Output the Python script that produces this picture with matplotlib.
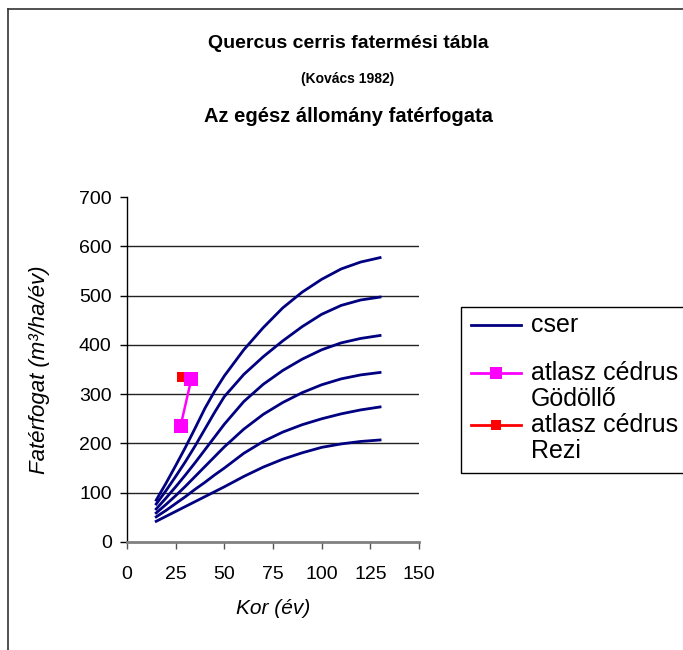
import matplotlib
matplotlib.use("Agg")
import matplotlib.pyplot as plt
from matplotlib.lines import Line2D
from matplotlib.patches import Rectangle

plt.rcParams['font.family'] = ['Liberation Sans', 'DejaVu Sans']

# ---- data ----
ages = [15, 20, 25, 30, 35, 40, 45, 50, 60, 70, 80, 90, 100, 110, 120, 130]
cser_1 = [85, 119, 155, 192, 231, 271, 306, 337, 390, 435, 475, 507, 533, 554, 568, 577]
cser_2 = [77, 104, 133, 163, 195, 229, 263, 295, 340, 376, 408, 437, 462, 480, 491, 497]
cser_3 = [67, 89, 112, 136, 161, 187, 213, 239, 285, 320, 348, 371, 390, 404, 413, 419]
cser_4 = [59, 76, 94, 113, 133, 153, 173, 193, 229, 259, 283, 303, 319, 331, 339, 344]
cser_5 = [51, 64, 78, 92, 107, 121, 136, 150, 180, 204, 223, 238, 250, 260, 268, 274]
cser_6 = [42, 52, 62, 72, 82, 92, 102, 112, 133, 152, 168, 181, 192, 199, 204, 207]
cser_curves = [cser_1, cser_2, cser_3, cser_4, cser_5, cser_6]

godollo_x = [27.5, 33]
godollo_y = [235, 330]
rezi_x = [28.5]
rezi_y = [335]

x_ticks = [0, 25, 50, 75, 100, 125, 150]
y_ticks = [0, 100, 200, 300, 400, 500, 600, 700]

legend_labels = ["cser", "atlasz cédrus\nGödöllő", "atlasz cédrus\nRezi"]
title_1 = "Quercus cerris fatermési tábla"
title_2 = "(Kovács 1982)"
title_3 = "Az egész állomány fatérfogata"

W, H = 683, 650
fig = plt.figure(figsize=(W / 100, H / 100), dpi=100)

def fx(px):
    return px / W

def fy(py):
    return 1 - py / H

ax = fig.add_axes([fx(127), fy(542), fx(419) - fx(127), fy(197) - fy(542)])

navy = '#000080'
for c in cser_curves:
    ax.plot(ages, c, color=navy, lw=2.0, solid_joinstyle='round', zorder=3)

ax.plot(rezi_x, rezi_y, color='#FF0000', lw=1.8, marker='s', markersize=7.5,
        markeredgewidth=0, zorder=4)
ax.plot(godollo_x, godollo_y, color='#FF00FF', lw=1.8, marker='s', markersize=9.5,
        markeredgewidth=0, zorder=5)

ax.set_xlim(x_ticks[0], x_ticks[-1])
ax.set_ylim(y_ticks[0], y_ticks[-1])
ax.set_xticks(x_ticks)
ax.set_yticks(y_ticks)
for t in y_ticks[1:-1]:
    ax.axhline(t, color='#222222', lw=1.0, zorder=1)

for s in ['top', 'right']:
    ax.spines[s].set_visible(False)
ax.spines['left'].set_color('black')
ax.spines['left'].set_linewidth(1.0)
ax.spines['bottom'].set_color('#808080')
ax.spines['bottom'].set_linewidth(2.0)
ax.tick_params(axis='y', direction='out', length=5, width=1, color='black',
               labelsize=14, pad=6)
ax.tick_params(axis='x', direction='out', length=5, width=1, color='#555555',
               labelsize=14, pad=12)

ax.set_xlabel("Kor (év)", fontsize=15, style='italic')
ax.set_ylabel("Fatérfogat (m³/ha/év)", fontsize=16, style='italic')
ax.xaxis.set_label_coords(0.5, (542 - 608) / 345)
ax.xaxis.label.set_va('center')
ax.yaxis.set_label_coords((40 - 127) / 292, (542 - 370) / 345)
ax.yaxis.label.set_va('center')

# titles
cx = fx(348)
fig.text(cx, fy(43), title_1, ha='center', va='center', fontsize=14, fontweight='bold')
fig.text(cx, fy(79), title_2, ha='center', va='center', fontsize=10, fontweight='bold')
fig.text(cx, fy(117), title_3, ha='center', va='center', fontsize=14.5, fontweight='bold')

# figure border (extends beyond right/bottom edges)
fig.add_artist(Line2D([fx(8), fx(8)], [fy(9), fy(700)], color='#333333', lw=1.2,
                      transform=fig.transFigure, clip_on=False))
fig.add_artist(Line2D([fx(8), fx(700)], [fy(9), fy(9)], color='#333333', lw=1.2,
                      transform=fig.transFigure, clip_on=False))

# legend box
fig.add_artist(Rectangle((fx(461), fy(473)), fx(700) - fx(461), fy(307) - fy(473),
                         transform=fig.transFigure, fill=False, edgecolor='black',
                         lw=1.0, clip_on=False))

def legend_entry(y, color, marker, ms, lines):
    fig.add_artist(Line2D([fx(471), fx(521)], [fy(y), fy(y)], color=color, lw=2.0,
                          transform=fig.transFigure))
    if marker:
        fig.add_artist(Line2D([fx(496)], [fy(y)], color=color, marker='s',
                              markersize=ms, markeredgewidth=0, linestyle='none',
                              transform=fig.transFigure))
    for i, ln in enumerate(lines):
        fig.text(fx(531), fy(y + i * 26.5), ln, ha='left', va='center', fontsize=18)

legend_entry(325, navy, False, 0, legend_labels[0].split("\n"))
legend_entry(373, '#FF00FF', True, 8, legend_labels[1].split("\n"))
legend_entry(425, '#FF0000', True, 7, legend_labels[2].split("\n"))

fig.savefig("out.png", dpi=100)
